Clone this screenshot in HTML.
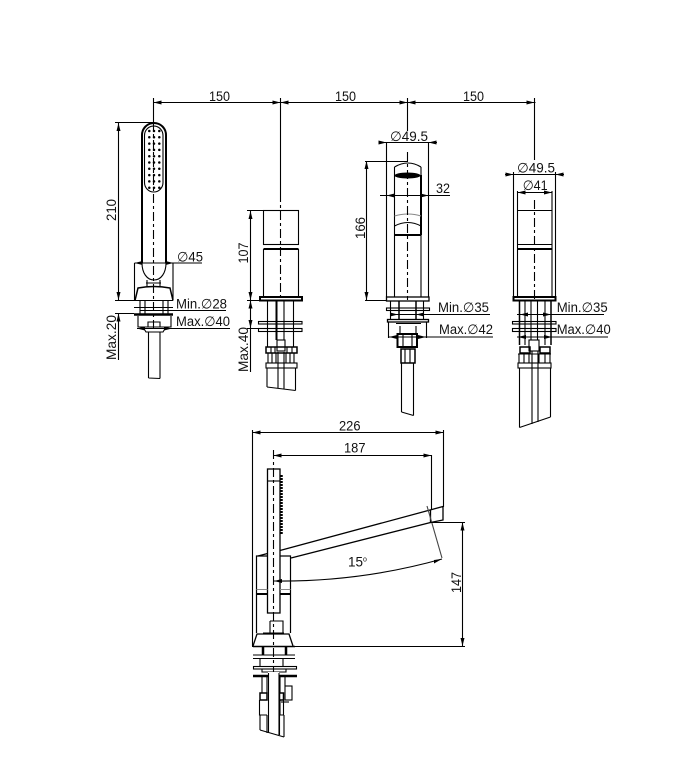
<!DOCTYPE html>
<html><head><meta charset="utf-8"><style>
html,body{margin:0;padding:0;background:#fff}
svg{display:block}
text{font-family:"Liberation Sans",sans-serif;font-size:13.5px;fill:#111}
tspan.d{font-family:"DejaVu Sans",sans-serif;font-size:13.5px}
.l{stroke:#000;stroke-width:1.1;fill:none}
.t{stroke:#000;stroke-width:2;fill:none}
.c{stroke:#000;stroke-width:1.1;fill:none;stroke-dasharray:9 3 3 3}
.g{stroke:#888;stroke-width:1;fill:none}
</style></head><body>
<svg width="681" height="782" viewBox="0 0 681 782" xmlns="http://www.w3.org/2000/svg">

<!-- Top dimensions -->
<path class="l" d="M153.500 102.500H535.500"/>
<path fill="#000" d="M153.500 102.500l8-2v4zM280.500 102.500l-8-2v4zM280.500 102.500l8-2v4zM407.500 102.500l-8-2v4zM407.500 102.500l8-2v4zM534.500 102.500l-8-2v4z"/>
<path class="l" d="M153.500 98V122M280.500 98V193M407.500 98V131M534.500 98V160"/>
<text x="209" y="101" textLength="21" lengthAdjust="spacingAndGlyphs">150</text>
<text x="335" y="101" textLength="21" lengthAdjust="spacingAndGlyphs">150</text>
<text x="463" y="101" textLength="21" lengthAdjust="spacingAndGlyphs">150</text>

<!-- Hand shower front -->
<path class="t" d="M142 263V135a12 12 0 0 1 24 0V263"/>
<rect x="144.500" y="126" width="18.500" height="66" rx="9.500" class="l"/>
<path d="M149.300 131V188M154 131V188M159.300 131V188" stroke="#000" stroke-width="2.500" stroke-linecap="round" stroke-dasharray="0 6.300" fill="none"/>
<path class="l" d="M142 263c0 10 5 17 12 17s12-7 12-17"/>
<path class="l" d="M147 280V287M160 280V287M146 283H161"/>
<path class="t" d="M135 300.500L138 288Q154 285 170 288L173 300.500" style="stroke-width:1.500"/>
<path class="l" d="M135 300.500H173"/>
<path class="c" d="M153.500 122V330"/>
<path class="l" d="M134.500 263V300M173 263V300"/>
<path class="l" d="M134.500 263H202"/>
<path fill="#000" d="M134.500 263l8-2v4zM173.500 263l-8-2v4z"/>
<text x="177" y="261.700" textLength="26" lengthAdjust="spacingAndGlyphs"><tspan class="d">∅</tspan>45</text>
<path class="l" d="M115 122.500H153M115 300.500H173"/>
<path class="l" d="M118.500 123V300"/>
<path fill="#000" d="M118.500 123l-2 8h4zM118.500 300l-2-8h4z"/>
<text transform="translate(116 221) rotate(-90)" textLength="22" lengthAdjust="spacingAndGlyphs">210</text>
<path class="l" d="M140 301V314M145 301V314M163 301V314M168 301V314"/>
<path class="l" d="M134 307.500H173"/>
<path class="t" d="M134 314.500H173" style="stroke-width:2.500"/>
<path class="l" d="M140 310.500H226"/>
<text x="176" y="308.300" textLength="51" lengthAdjust="spacingAndGlyphs">Min.<tspan class="d">∅</tspan>28</text>
<path class="l" d="M138 316V327H171V316M143 327L146 332H163L166 327M148 327V322H160V327"/>
<path class="l" d="M137 328.500H230"/>
<path fill="#000" d="M137 328.500l8-2v4zM172 328.500l-8-2v4z"/>
<text x="176" y="326" textLength="54" lengthAdjust="spacingAndGlyphs">Max.<tspan class="d">∅</tspan>40</text>
<path class="l" d="M148.500 332V378M160 332V378.500M148.500 378L160 378.500"/>
<path class="l" d="M115 313.500H134M118.500 313.500V360"/>
<path fill="#000" d="M118.500 313.500l-2 8h4z"/>
<text transform="translate(116 360) rotate(-90)" textLength="45" lengthAdjust="spacingAndGlyphs">Max.20</text>

<!-- Unit 2 -->
<rect x="263.500" y="210.500" width="35" height="34" class="l"/>
<path class="l" d="M263.500 249V297M298.500 249V297"/>
<path class="t" d="M263.500 249H298.500"/>
<rect x="260" y="297" width="42" height="3.500" class="t"/>
<path class="c" d="M280.500 193V300"/>
<path class="l" d="M267.500 301V347M284 301V340M293.500 301V347"/>
<path class="t" d="M276.500 301V340"/>
<rect x="258.500" y="321.500" width="43.500" height="2.500" class="l"/>
<rect x="258.500" y="328.500" width="43.500" height="3" class="l"/>
<rect x="277" y="340" width="8" height="11" class="l" style="fill:#fff"/>
<rect x="266" y="347" width="31" height="6" class="t" style="stroke-width:1.500"/>
<path class="l" d="M271 347V353M275 347V353M287 347V353M292 347V353"/>
<path class="l" d="M268 353V363M272 353V363M276 353V363M286 353V363M290 353V363M294 353V363"/>
<rect x="266" y="363" width="31" height="5" class="l"/>
<path class="l" d="M267 368V387M278 352V388.500M284 352V389.500M295.500 368V390.500M267 387L295.500 390.500"/>
<path class="l" d="M247 210.500H263M247 300.500H262M247 328.500H262"/>
<path class="l" d="M250.500 210V372"/>
<path fill="#000" d="M250.500 211l-2 8h4zM250.500 300l-2-8h4zM250.500 300.500l-2 8h4zM250.500 328l-2-8h4z"/>
<text transform="translate(248 263.500) rotate(-90)" textLength="21" lengthAdjust="spacingAndGlyphs">107</text>
<text transform="translate(248 372) rotate(-90)" textLength="45" lengthAdjust="spacingAndGlyphs">Max.40</text>

<!-- Unit 3 -->
<path class="l" d="M386.500 142V297M428.500 142V297"/>
<path class="l" d="M380 142.500H437"/>
<path fill="#000" d="M386.500 142.500l-8-2v4zM428.500 142.500l8-2v4z"/>
<text x="390" y="141" textLength="38" lengthAdjust="spacingAndGlyphs"><tspan class="d">∅</tspan>49.5</text>
<path class="l" d="M394.500 167V297M421 167V175M421 235V297M394.500 167Q408 159 421 167"/>
<path class="t" d="M421 175V235"/>
<ellipse cx="407.500" cy="175.500" rx="13" ry="3" fill="#000"/>
<path class="g" d="M394.500 216Q408 212 421 216"/>
<path class="l" d="M394.500 226Q408 219 421 226"/>
<path class="t" d="M394.500 235H421"/>
<path class="c" d="M407.500 152V300"/>
<path class="l" d="M380 195.500H450"/>
<path fill="#000" d="M386.500 195.500l8 -2v4zM428.500 195.500l-8-2v4z"/>
<text x="436" y="193" textLength="14" lengthAdjust="spacingAndGlyphs">32</text>
<path class="l" d="M365 161.500H408M365 300.500H386"/>
<path class="l" d="M366.500 161V300"/>
<path fill="#000" d="M366.500 161l-2 8h4zM366.500 300l-2-8h4z"/>
<text transform="translate(365 239) rotate(-90)" textLength="22" lengthAdjust="spacingAndGlyphs">166</text>
<rect x="386.500" y="297" width="42.500" height="4" class="l" style="stroke-width:1.300"/>
<path class="t" d="M399 301V320M416 301V320" style="stroke-width:1.500"/>
<path class="l" d="M390.500 301V320M423.500 301V320"/>
<rect x="386.500" y="308" width="43" height="2.500" class="l"/>
<rect x="387.500" y="319.500" width="41" height="2.500" class="l" style="stroke-width:1.300"/>
<path class="l" d="M393 314.500H490"/>
<path fill="#000" d="M398 314.500l-8-2v4zM416 314.500l8-2v4z"/>
<text x="438" y="312" textLength="51" lengthAdjust="spacingAndGlyphs">Min.<tspan class="d">∅</tspan>35</text>
<path class="l" d="M396 323.500H421M400 326V333M416 326V333"/>
<rect x="397.500" y="334" width="19.500" height="13" class="t"/>
<path class="l" d="M403 334V347M412 334V347"/>
<path class="l" d="M388.500 322V338M426.500 322V338"/>
<path class="l" d="M389 337H493"/>
<path fill="#000" d="M389 337l8-2v4zM426 337l-8-2v4z"/>
<text x="439" y="334" textLength="54" lengthAdjust="spacingAndGlyphs">Max.<tspan class="d">∅</tspan>42</text>
<rect x="401" y="349" width="14" height="14" class="l" style="stroke-width:1.500"/>
<path class="l" d="M405 349V363M410 349V363"/>
<path class="l" d="M401.500 363V412M413.500 363V415.500M401.500 412L413.500 415.500"/>

<!-- Unit 4 -->
<path class="l" d="M513.500 172V297M555.500 172V297M517.500 191V297M552 191V297"/>
<path class="l" d="M505 174.500H564"/>
<path fill="#000" d="M513.500 174.500l-8-2v4zM555.500 174.500l8-2v4z"/>
<text x="517" y="172.700" textLength="38" lengthAdjust="spacingAndGlyphs"><tspan class="d">∅</tspan>49.5</text>
<path class="l" d="M517 192.500H552"/>
<path fill="#000" d="M517.500 192.500l8-2v4zM552 192.500l-8-2v4z"/>
<text x="522.700" y="190" textLength="25" lengthAdjust="spacingAndGlyphs"><tspan class="d">∅</tspan>41</text>
<path class="l" d="M517.500 210.500H552M517.500 244.500H552"/>
<path class="t" d="M517.500 249H552"/>
<path class="c" d="M534.500 200V300"/>
<rect x="513.500" y="297" width="42" height="3.500" class="t"/>
<path class="t" d="M519.500 301V345M551 301V345" style="stroke-width:1.500"/>
<path class="l" d="M531 301V340M537.500 301V340M525 301V345M545 301V345"/>
<rect x="512.500" y="321.500" width="43.500" height="2.500" class="l"/>
<rect x="512.500" y="328.500" width="43.500" height="3" class="l"/>
<path class="l" d="M517 314.500H604M517 337H608"/>
<path fill="#000" d="M520 314.500l8-2v4zM551 314.500l-8-2v4zM518 337l8-2v4zM552 337l-8-2v4z"/>
<text x="556.700" y="312" textLength="51" lengthAdjust="spacingAndGlyphs">Min.<tspan class="d">∅</tspan>35</text>
<text x="556.700" y="334" textLength="54" lengthAdjust="spacingAndGlyphs">Max.<tspan class="d">∅</tspan>40</text>
<rect x="529" y="340" width="10" height="11" class="l" style="fill:#fff"/>
<rect x="520" y="347" width="10" height="6" class="t" style="stroke-width:1.500"/>
<rect x="540" y="347" width="10" height="6" class="t" style="stroke-width:1.500"/>
<path class="l" d="M518 354H551M519 354V363M524 354V363M529 354V363M539 354V363M545 354V363M550 354V363"/>
<rect x="518" y="363" width="33" height="5" class="l"/>
<path class="l" d="M519.500 368V427.500M532 351V424M538 351V422M550.500 368V417M519.500 427.500L550.500 417"/>

<!-- Side view dimensions -->
<path class="l" d="M252.500 430V646M443.500 430V507"/>
<path class="l" d="M252 432.500H443"/>
<path fill="#000" d="M252.500 432.500l8-2v4zM443.500 432.500l-8-2v4z"/>
<text x="339" y="430.700" textLength="21.500" lengthAdjust="spacingAndGlyphs">226</text>
<path class="l" d="M273.500 455.500H431.500M431.500 455V510"/>
<path fill="#000" d="M273.500 455.500l8-2v4zM431.500 455.500l-8-2v4z"/>
<text x="344" y="452.700" textLength="21.500" lengthAdjust="spacingAndGlyphs">187</text>

<!-- Hand shower side -->
<rect x="267.500" y="469" width="12.500" height="144" class="l" style="stroke-width:1.300;fill:#fff"/>
<path class="l" d="M267.500 481H280"/>
<path d="M281.500 475V535" stroke="#000" stroke-width="2.500" stroke-dasharray="2 1" fill="none"/>
<path class="c" d="M273.500 450V700"/>

<!-- Spout -->
<path class="l" d="M258 556L267.500 553.500M280 550.500L443 506.500V520L430.500 522.500V510" style="stroke-width:1.300"/>
<path class="l" d="M291 558L430.500 522.500" style="stroke-width:1.300"/>

<!-- Body -->
<path class="l" d="M267.500 556H256.500V633M280 556H290.500V633" style="stroke-width:1.200"/>
<path class="t" d="M256.500 594H267.500M280 594H290.500"/>
<path class="g" d="M256.500 589.500H267.500M280 589.500H290.500"/>

<!-- 15 degree -->
<path class="l" d="M427 506L442 558" style="stroke:#444"/>
<path class="l" d="M274 581Q360 582 442 559"/>
<path fill="#000" d="M442 559l-8 1v3.500zM274 581l8-2v4z"/>
<text x="348" y="566.700">15<tspan dy="-5" style="font-size:7px">o</tspan></text>

<!-- 147 -->
<path class="l" d="M431 522.500H465M252 646.500H465M462.500 522V646"/>
<path fill="#000" d="M462.500 522.500l-2 8h4zM462.500 646l-2-8h4z"/>
<text transform="translate(461 593) rotate(-90)" textLength="21" lengthAdjust="spacingAndGlyphs">147</text>

<!-- Side base -->
<path class="l" d="M270 621H283V633M270 621V633M263 633H284"/>
<path class="t" d="M253 646L257 634H289L293 646" style="stroke-width:1.300"/>
<path class="t" d="M253 646.500H295" style="stroke-width:1.500"/>
<path class="t" d="M263 647V655M286 647V655" style="stroke-width:2.500"/>
<path class="l" d="M253 655H295M253 658.500H295"/>
<path class="l" d="M260 659V667M283 659V667"/>
<rect x="253.500" y="666.500" width="43" height="2.500" class="l"/>
<path class="t" d="M253 676H297" style="stroke-width:2.500"/>
<path class="l" d="M262 669V672H286V669"/>
<path class="l" d="M262 677V693M267 677V693M280 677V693M285 677V686"/>
<rect x="285" y="686" width="7" height="14" class="l"/>
<path class="l" d="M281 702H289"/>
<rect x="260" y="693" width="7" height="7" class="t" style="stroke-width:1.500"/>
<rect x="279.500" y="693" width="4" height="7" class="t" style="stroke-width:1.500"/>
<path class="l" d="M259.500 700V715H267M280 700V715H283.500V700"/>
<path class="l" d="M260 715V730M267 715V733M279.500 715V735M284 715V737"/>
<rect x="268" y="672" width="11" height="60" fill="#fff"/>
<path class="l" d="M268.500 673V733M279 673V735"/>
<path class="l" d="M260 730L284 737"/>
</svg>
</body></html>
